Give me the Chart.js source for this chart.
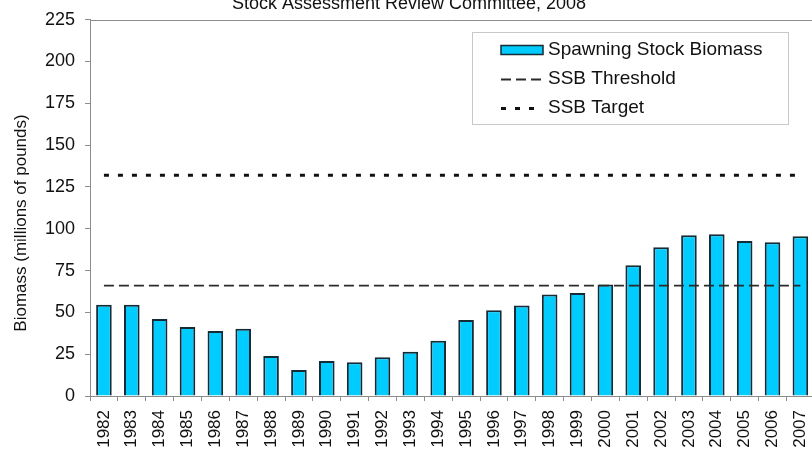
<!DOCTYPE html>
<html>
<head>
<meta charset="utf-8">
<title>Spawning Stock Biomass</title>
<script src="https://cdn.jsdelivr.net/npm/chart.js@4"></script>
<style>
  html, body { margin: 0; padding: 0; background: #fff; overflow: hidden; }
  /* the original picture is cropped: title cut at the top, last bar cut at the right */
  #wrap { position: absolute; left: 0; top: -7px; width: 830px; height: 458px; }
</style>
</head>
<body>
<div id="wrap"><canvas id="graficoSSB" width="830" height="458"></canvas></div>
<script>
const anos = ['1982', '1983', '1984', '1985', '1986', '1987', '1988', '1989', '1990',
              '1991', '1992', '1993', '1994', '1995', '1996', '1997', '1998', '1999',
              '2000', '2001', '2002', '2003', '2004', '2005', '2006', '2007'];
const biomassa = [54.5, 54.5, 46.1, 41.2, 38.8, 40.2, 23.9, 15.5, 20.9,
                  20.1, 23.1, 26.4, 33.0, 45.4, 51.3, 54.1, 60.7, 61.5,
                  66.6, 78.2, 88.9, 96.1, 96.7, 92.7, 91.9, 95.5];
const SSB_THRESHOLD = 66;
const SSB_TARGET = 132;
const ticksY = [0, 25, 50, 75, 100, 125, 150, 175, 200, 225];

const titulo = 'Stock Assessment Review Committee, 2008';
const tituloY = 'Biomass (millions of pounds)';

const FONTE = '"Liberation Sans", Arial, sans-serif';
const CINZA = '#8c8c8c';

// top frame line, y axis title and the boxed legend inside the plot
const molduraELegenda = {
    id: 'molduraELegenda',
    afterDraw(chart) {
        const ctx = chart.ctx;
        const a = chart.chartArea;

        ctx.save();
        ctx.strokeStyle = CINZA;
        ctx.lineWidth = 1;
        ctx.beginPath();
        ctx.moveTo(a.left, Math.round(a.top) + 0.5);
        ctx.lineTo(a.right, Math.round(a.top) + 0.5);
        ctx.stroke();

        ctx.translate(21, 230);
        ctx.rotate(-Math.PI / 2);
        ctx.font = '17px ' + FONTE;
        ctx.fillStyle = '#111';
        ctx.textAlign = 'center';
        ctx.textBaseline = 'middle';
        ctx.fillText(tituloY, 0, 0);
        ctx.restore();

        // legend
        ctx.save();
        ctx.fillStyle = '#fff';
        ctx.fillRect(472, 39, 316, 92);
        ctx.strokeStyle = '#c8c8c8';
        ctx.lineWidth = 1;
        ctx.strokeRect(472.5, 39.5, 316, 92);

        ctx.font = '19px ' + FONTE;
        ctx.textBaseline = 'middle';
        ctx.textAlign = 'left';
        chart.data.datasets.forEach((ds, i) => {
            const y = 57 + i * 29;
            if (ds.type === 'line') {
                ctx.strokeStyle = ds.borderColor;
                ctx.lineWidth = ds.borderWidth;
                ctx.setLineDash(ds.borderDash);
                ctx.beginPath();
                ctx.moveTo(501, y + 0.5);
                ctx.lineTo(543, y + 0.5);
                ctx.stroke();
                ctx.setLineDash([]);
            } else {
                ctx.fillStyle = ds.backgroundColor;
                ctx.fillRect(501, y - 4.5, 42, 9);
                ctx.strokeStyle = ds.borderColor;
                ctx.lineWidth = 1.5;
                ctx.strokeRect(501, y - 4.5, 42, 9);
            }
            ctx.fillStyle = '#111';
            ctx.fillText(ds.label, 548, y);
        });
        ctx.restore();
    }
};

const ctx = document.getElementById('graficoSSB').getContext('2d');
new Chart(ctx, {
    type: 'bar',
    data: {
        labels: anos,
        datasets: [
            {
                label: 'Spawning Stock Biomass',
                data: biomassa,
                backgroundColor: '#00ccff',
                borderColor: '#152b36',
                borderWidth: 2,
                categoryPercentage: 1,
                barPercentage: 0.56,
                order: 2
            },
            {
                type: 'line',
                label: 'SSB Threshold',
                data: anos.map(() => SSB_THRESHOLD),
                borderColor: '#2a2a2a',
                borderWidth: 1.8,
                borderDash: [10, 5],
                pointRadius: 0,
                fill: false,
                order: 1
            },
            {
                type: 'line',
                label: 'SSB Target',
                data: anos.map(() => SSB_TARGET),
                borderColor: '#111',
                borderWidth: 3,
                borderDash: [5, 9],
                borderCapStyle: 'butt',
                pointRadius: 0,
                fill: false,
                order: 1
            }
        ]
    },
    options: {
        responsive: false,
        animation: false,
        layout: { padding: { left: 0, right: 12, top: 0, bottom: 0 } },
        plugins: {
            legend: { display: false },
            tooltip: { enabled: false },
            title: {
                display: true,
                text: titulo,
                color: '#111',
                font: { family: FONTE, size: 18, weight: 'normal' },
                padding: { top: 0, bottom: 5 }
            }
        },
        scales: {
            x: {
                grid: { drawOnChartArea: false, drawTicks: true, tickLength: 5, color: CINZA, offset: true },
                border: { display: true, color: CINZA, width: 1 },
                ticks: {
                    color: '#111',
                    font: { family: FONTE, size: 17 },
                    minRotation: 90,
                    maxRotation: 90,
                    autoSkip: false,
                    padding: 9
                },
                afterFit(s) { s.height = 55; }
            },
            y: {
                min: 0,
                max: 225,
                grid: { drawOnChartArea: false, drawTicks: true, tickLength: 5, color: CINZA },
                border: { display: true, color: CINZA, width: 1 },
                ticks: {
                    color: '#111',
                    font: { family: FONTE, size: 18 },
                    padding: 10
                },
                afterBuildTicks(s) { s.ticks = ticksY.map(v => ({ value: v })); },
                afterFit(s) { s.width = 90; }
            }
        }
    },
    plugins: [molduraELegenda]
});
</script>
</body>
</html>
